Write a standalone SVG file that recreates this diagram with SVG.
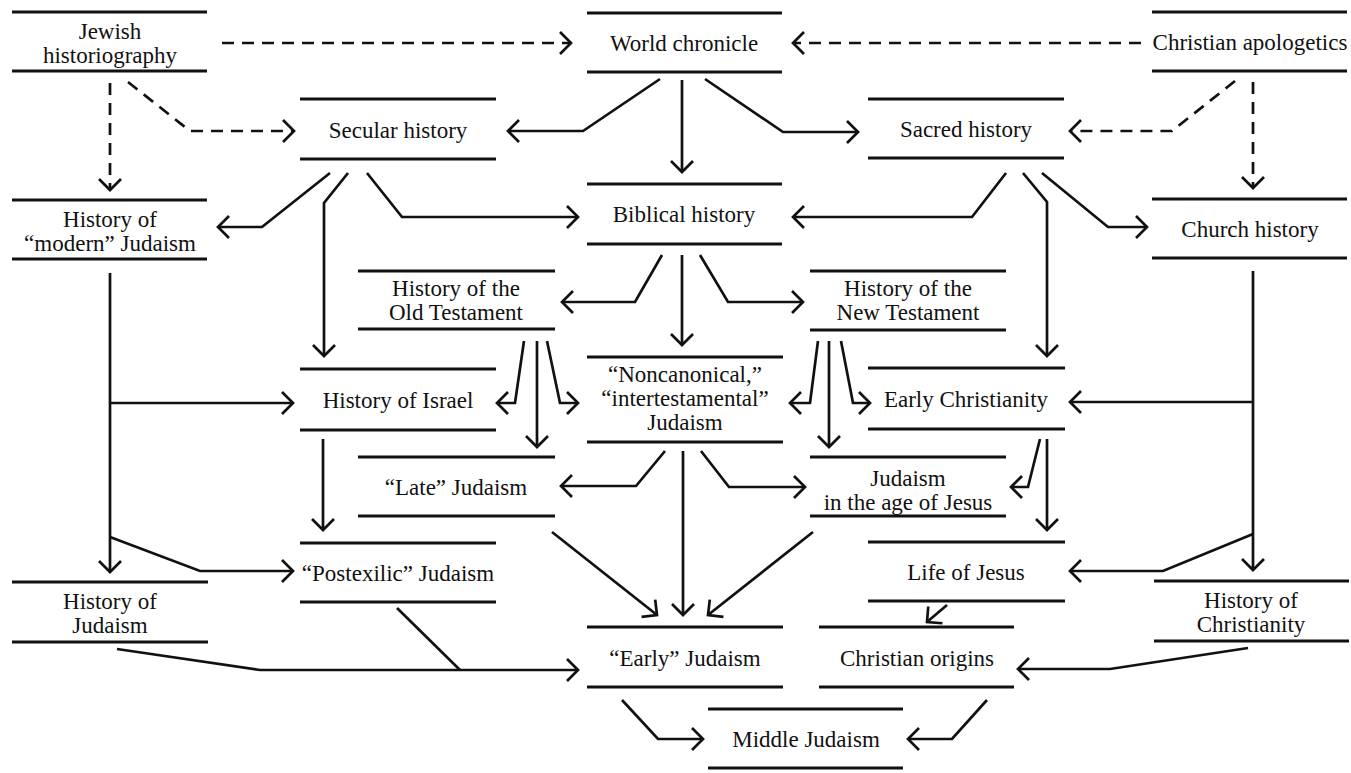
<svg xmlns="http://www.w3.org/2000/svg" width="1351" height="773" viewBox="0 0 1351 773">
<style>
.bg{fill:#fff}
.rule{stroke:#111;stroke-width:2.8;fill:none}
.t{font-family:"Liberation Serif","Times New Roman",serif;font-size:23px;fill:#111;text-anchor:middle}
.c{stroke:#111;stroke-width:2.7;fill:none;stroke-linejoin:miter}
.d{stroke-dasharray:12 8}
.ah{stroke:#111;stroke-width:2.7;fill:none;stroke-dasharray:none}
</style>
<defs>
<marker id="a" markerUnits="userSpaceOnUse" viewBox="-16 -16 32 32" markerWidth="32" markerHeight="32" refX="0" refY="0" orient="auto" overflow="visible">
<path class="ah" d="M-11,-11 L0,0 L-11,11"/>
</marker>
</defs>
<rect class="bg" x="0" y="0" width="1351" height="773"/>

<g id="jewish-historiography"><line class="rule" x1="12" y1="12" x2="207" y2="12"/><line class="rule" x1="12" y1="71" x2="207" y2="71"/><text class="t" x="110" y="39">Jewish</text><text class="t" x="110" y="63">historiography</text></g>
<g id="world-chronicle"><line class="rule" x1="587" y1="13" x2="782" y2="13"/><line class="rule" x1="587" y1="72" x2="782" y2="72"/><text class="t" x="684" y="51">World chronicle</text></g>
<g id="christian-apologetics"><line class="rule" x1="1152" y1="12" x2="1347" y2="12"/><line class="rule" x1="1152" y1="71" x2="1347" y2="71"/><text class="t" x="1250" y="50">Christian apologetics</text></g>
<g id="secular-history"><line class="rule" x1="300" y1="99" x2="496" y2="99"/><line class="rule" x1="300" y1="159" x2="496" y2="159"/><text class="t" x="398" y="138">Secular history</text></g>
<g id="sacred-history"><line class="rule" x1="868" y1="99" x2="1064" y2="99"/><line class="rule" x1="868" y1="158" x2="1064" y2="158"/><text class="t" x="966" y="137">Sacred history</text></g>
<g id="biblical-history"><line class="rule" x1="587" y1="184" x2="782" y2="184"/><line class="rule" x1="587" y1="244" x2="782" y2="244"/><text class="t" x="684" y="222">Biblical history</text></g>
<g id="modern-judaism"><line class="rule" x1="12" y1="200" x2="207" y2="200"/><line class="rule" x1="12" y1="259" x2="207" y2="259"/><text class="t" x="110" y="227">History of</text><text class="t" x="110" y="251">“modern” Judaism</text></g>
<g id="church-history"><line class="rule" x1="1152" y1="199" x2="1347" y2="199"/><line class="rule" x1="1152" y1="258" x2="1347" y2="258"/><text class="t" x="1250" y="237">Church history</text></g>
<g id="old-testament"><line class="rule" x1="358" y1="271" x2="555" y2="271"/><line class="rule" x1="358" y1="329" x2="555" y2="329"/><text class="t" x="456" y="296">History of the</text><text class="t" x="456" y="320">Old Testament</text></g>
<g id="new-testament"><line class="rule" x1="810" y1="271" x2="1006" y2="271"/><line class="rule" x1="810" y1="330" x2="1006" y2="330"/><text class="t" x="908" y="296">History of the</text><text class="t" x="908" y="320">New Testament</text></g>
<g id="history-israel"><line class="rule" x1="300" y1="369" x2="496" y2="369"/><line class="rule" x1="300" y1="430" x2="496" y2="430"/><text class="t" x="398" y="408">History of Israel</text></g>
<g id="noncanonical"><line class="rule" x1="587" y1="357" x2="783" y2="357"/><line class="rule" x1="587" y1="442" x2="783" y2="442"/><text class="t" x="685" y="382">“Noncanonical,”</text><text class="t" x="685" y="406">“intertestamental”</text><text class="t" x="685" y="430">Judaism</text></g>
<g id="early-christianity"><line class="rule" x1="868" y1="368" x2="1065" y2="368"/><line class="rule" x1="868" y1="429" x2="1065" y2="429"/><text class="t" x="966" y="407">Early Christianity</text></g>
<g id="late-judaism"><line class="rule" x1="358" y1="457" x2="555" y2="457"/><line class="rule" x1="358" y1="516" x2="555" y2="516"/><text class="t" x="456" y="495">“Late” Judaism</text></g>
<g id="age-of-jesus"><line class="rule" x1="810" y1="457" x2="1006" y2="457"/><line class="rule" x1="810" y1="516" x2="1006" y2="516"/><text class="t" x="908" y="486">Judaism</text><text class="t" x="908" y="510">in the age of Jesus</text></g>
<g id="postexilic-judaism"><line class="rule" x1="300" y1="543" x2="496" y2="543"/><line class="rule" x1="300" y1="602" x2="496" y2="602"/><text class="t" x="398" y="581">“Postexilic” Judaism</text></g>
<g id="life-of-jesus"><line class="rule" x1="868" y1="542" x2="1065" y2="542"/><line class="rule" x1="868" y1="601" x2="1065" y2="601"/><text class="t" x="966" y="580">Life of Jesus</text></g>
<g id="history-judaism"><line class="rule" x1="12" y1="582" x2="208" y2="582"/><line class="rule" x1="12" y1="642" x2="208" y2="642"/><text class="t" x="110" y="609">History of</text><text class="t" x="110" y="633">Judaism</text></g>
<g id="history-christianity"><line class="rule" x1="1154" y1="581" x2="1349" y2="581"/><line class="rule" x1="1154" y1="641" x2="1349" y2="641"/><text class="t" x="1251" y="608">History of</text><text class="t" x="1251" y="632">Christianity</text></g>
<g id="early-judaism"><line class="rule" x1="587" y1="627" x2="783" y2="627"/><line class="rule" x1="587" y1="687" x2="783" y2="687"/><text class="t" x="685" y="666">“Early” Judaism</text></g>
<g id="christian-origins"><line class="rule" x1="819" y1="627" x2="1014" y2="627"/><line class="rule" x1="819" y1="687" x2="1014" y2="687"/><text class="t" x="917" y="666">Christian origins</text></g>
<g id="middle-judaism"><line class="rule" x1="708" y1="709" x2="903" y2="709"/><line class="rule" x1="708" y1="768" x2="903" y2="768"/><text class="t" x="806" y="747">Middle Judaism</text></g>

<g id="connectors">
<polyline class="c d" marker-end="url(#a)" points="222,43 571,43"/>
<polyline class="c d" marker-end="url(#a)" points="1141,43 793,43"/>
<polyline class="c d" marker-end="url(#a)" points="110,83 110,190"/>
<polyline class="c d" marker-end="url(#a)" points="128,82 190,131 294,131"/>
<polyline class="c d" marker-end="url(#a)" points="1235,81 1172,131 1070,131"/>
<polyline class="c d" marker-end="url(#a)" points="1253,82 1253,188"/>

<polyline class="c" marker-end="url(#a)" points="660,79 583,131 508,131"/>
<polyline class="c" marker-end="url(#a)" points="682,80 682,172"/>
<polyline class="c" marker-end="url(#a)" points="705,79 783,132 858,132"/>
<polyline class="c" marker-end="url(#a)" points="330,173 262,227 218,227"/>
<polyline class="c" marker-end="url(#a)" points="348,173 324,203 324,356"/>
<polyline class="c" marker-end="url(#a)" points="367,173 402,217 578,217"/>
<polyline class="c" marker-end="url(#a)" points="1006,173 972,217 793,217"/>
<polyline class="c" marker-end="url(#a)" points="1023,173 1047,202 1047,356"/>
<polyline class="c" marker-end="url(#a)" points="1042,173 1108,227 1147,227"/>
<polyline class="c" marker-end="url(#a)" points="662,255 635,302 562,302"/>
<polyline class="c" marker-end="url(#a)" points="682,255 682,345"/>
<polyline class="c" marker-end="url(#a)" points="700,255 728,302 803,302"/>
<polyline class="c" marker-end="url(#a)" points="524,341 515,403 497,403"/>
<polyline class="c" marker-end="url(#a)" points="537,341 537,447"/>
<polyline class="c" marker-end="url(#a)" points="547,341 560,403 578,403"/>
<polyline class="c" marker-end="url(#a)" points="818,341 810,403 790,403"/>
<polyline class="c" marker-end="url(#a)" points="829,341 829,447"/>
<polyline class="c" marker-end="url(#a)" points="841,341 853,403 870,403"/>
<polyline class="c" marker-end="url(#a)" points="110,273 110,572"/>
<polyline class="c" marker-end="url(#a)" points="110,403 293,403"/>
<polyline class="c" marker-end="url(#a)" points="110,537 200,571 293,571"/>
<polyline class="c" marker-end="url(#a)" points="323,439 323,530"/>
<polyline class="c" marker-end="url(#a)" points="665,451 636,486 561,486"/>
<polyline class="c" marker-end="url(#a)" points="683,451 683,615"/>
<polyline class="c" marker-end="url(#a)" points="701,451 729,487 805,487"/>
<polyline class="c" marker-end="url(#a)" points="552,532 657,615"/>
<polyline class="c" marker-end="url(#a)" points="813,532 708,615"/>
<polyline class="c" marker-end="url(#a)" points="1040,439 1028,487 1011,487"/>
<polyline class="c" marker-end="url(#a)" points="1047,439 1047,530"/>
<polyline class="c" marker-end="url(#a)" points="1253,271 1253,570"/>
<polyline class="c" marker-end="url(#a)" points="1253,402 1070,402"/>
<polyline class="c" marker-end="url(#a)" points="1253,534 1163,571 1070,571"/>
<polyline class="c" marker-end="url(#a)" points="947,605 927,622"/>
<polyline class="c" marker-end="url(#a)" points="1248,648 1110,669 1018,669"/>
<polyline class="c" marker-end="url(#a)" points="117,649 260,670 578,670"/>
<polyline class="c" points="397,608 460,670"/>
<polyline class="c" marker-end="url(#a)" points="622,700 658,739 703,739"/>
<polyline class="c" marker-end="url(#a)" points="987,700 952,739 908,739"/>
</g>
</svg>
